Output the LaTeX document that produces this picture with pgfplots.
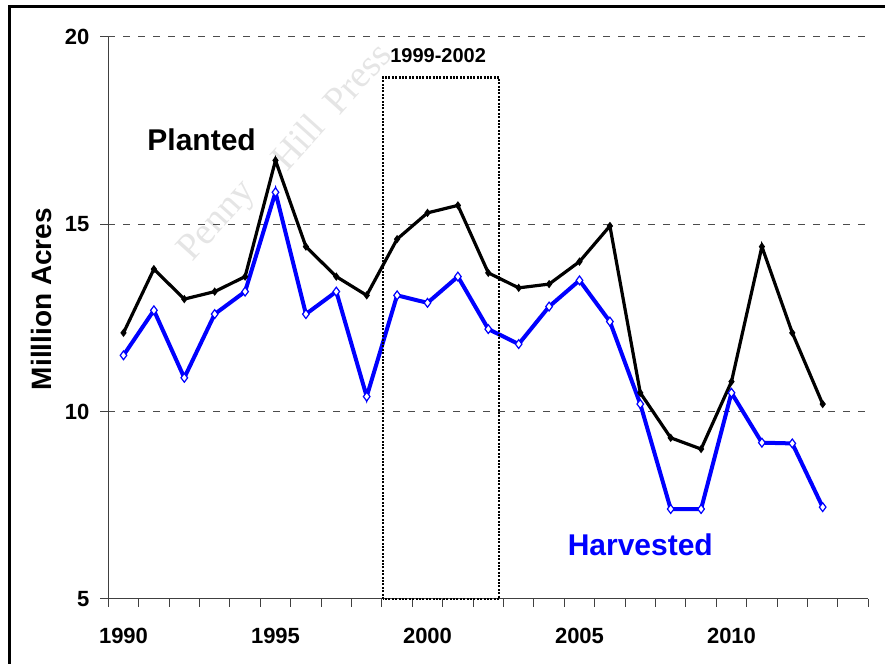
\documentclass[border=0pt]{standalone}
\usepackage{fontspec}
\setmainfont{Liberation Sans}
\newfontfamily\wmfont{Liberation Serif}
\usepackage{pgfplots}
\usepackage{pgfplotstable}
\pgfplotsset{compat=1.18}

\pgfplotstableread{
year planted harvested
1990 12.1 11.5
1991 13.8 12.7
1992 13.0 10.9
1993 13.2 12.6
1994 13.6 13.2
1995 16.7 15.85
1996 14.4 12.6
1997 13.6 13.2
1998 13.1 10.4
1999 14.6 13.1
2000 15.3 12.9
2001 15.5 13.6
2002 13.7 12.2
2003 13.3 11.8
2004 13.4 12.8
2005 14.0 13.5
2006 14.95 12.4
2007 10.5 10.2
2008 9.3 7.4
2009 9.0 7.4
2010 10.8 10.5
2011 14.4 9.17
2012 12.1 9.15
2013 10.2 7.45
}\datatable

\definecolor{gridgray}{gray}{0.3}

\begin{document}
\begin{tikzpicture}
\useasboundingbox (0,0) rectangle (442.5pt,332pt);
% watermark
\begin{scope}[every node/.style={rotate=48, text=black!10, font=\wmfont\fontsize{19}{21}\selectfont, inner sep=0pt}]
\node at (109pt,221pt) {Penny};
\node at (148.5pt,261pt) {Hill};
\node at (178.5pt,293pt) {Press};
\end{scope}
% outer frame (left and top visible)
\draw[line width=1.5pt] (4.5pt,-2pt) -- (4.5pt,328.5pt) -- (445pt,328.5pt);

\begin{axis}[
  at={(54.15pt,32.5pt)}, anchor=south west,
  scale only axis, width=380pt, height=281.15pt,
  xmin=1989.5, xmax=2014.5, ymin=5, ymax=20,
  axis x line*=bottom, axis y line*=left,
  axis line style={line width=0.5pt, black!75},
  every tick/.style={line width=0.5pt, black!75},
  tick align=outside,
  major tick length=4pt,
  xtick={1989.5,1990.5,...,2014.5},
  xticklabels={},
  extra x ticks={1990,1995,2000,2005,2010},
  extra x tick labels={1990,1995,2000,2005,2010},
  extra x tick style={major tick length=0pt, grid=none,
     tick label style={yshift=-11pt}},
  ytick={5,10,15,20},
  yticklabels={5,10,15,20},
  yticklabel style={xshift=-2pt},
  ymajorgrids,
  major grid style={gridgray, line width=0.5pt, dash pattern=on 3.5pt off 4pt},
  tick label style={font=\bfseries\fontsize{11}{13}\selectfont, black},
  /pgf/number format/assume math mode=true,
  clip=false,
]
\addplot[black, line width=1.6pt, mark=diamond*, mark size=1.7pt,
   mark options={solid, fill=black, line width=0.5pt}]
   table[x=year, y=planted] {\datatable};
\addplot[blue, line width=2pt, mark=diamond*, mark size=2.2pt,
   mark options={solid, fill=white, draw=blue, line width=0.6pt}]
   table[x=year, y=harvested] {\datatable};
\draw[black, line width=1.2pt, dash pattern=on 1pt off 0.7pt]
   (axis cs:1998.53,5) rectangle (axis cs:2002.36,18.91);
\node[anchor=base, font=\bfseries\fontsize{10}{12}\selectfont] at (axis cs:2000.35,19.32) {1999-2002};
\node[anchor=base, font=\bfseries\fontsize{15}{17}\selectfont] at (axis cs:1992.57,16.97) {Planted};
\node[anchor=base, text=blue, font=\bfseries\fontsize{15}{17}\selectfont] at (axis cs:2007.0,6.15) {Harvested};
\end{axis}
\node[rotate=90, font=\bfseries\fontsize{14}{16}\selectfont] at (20.9pt,182.5pt) {Milllion Acres};
\end{tikzpicture}
\end{document}
